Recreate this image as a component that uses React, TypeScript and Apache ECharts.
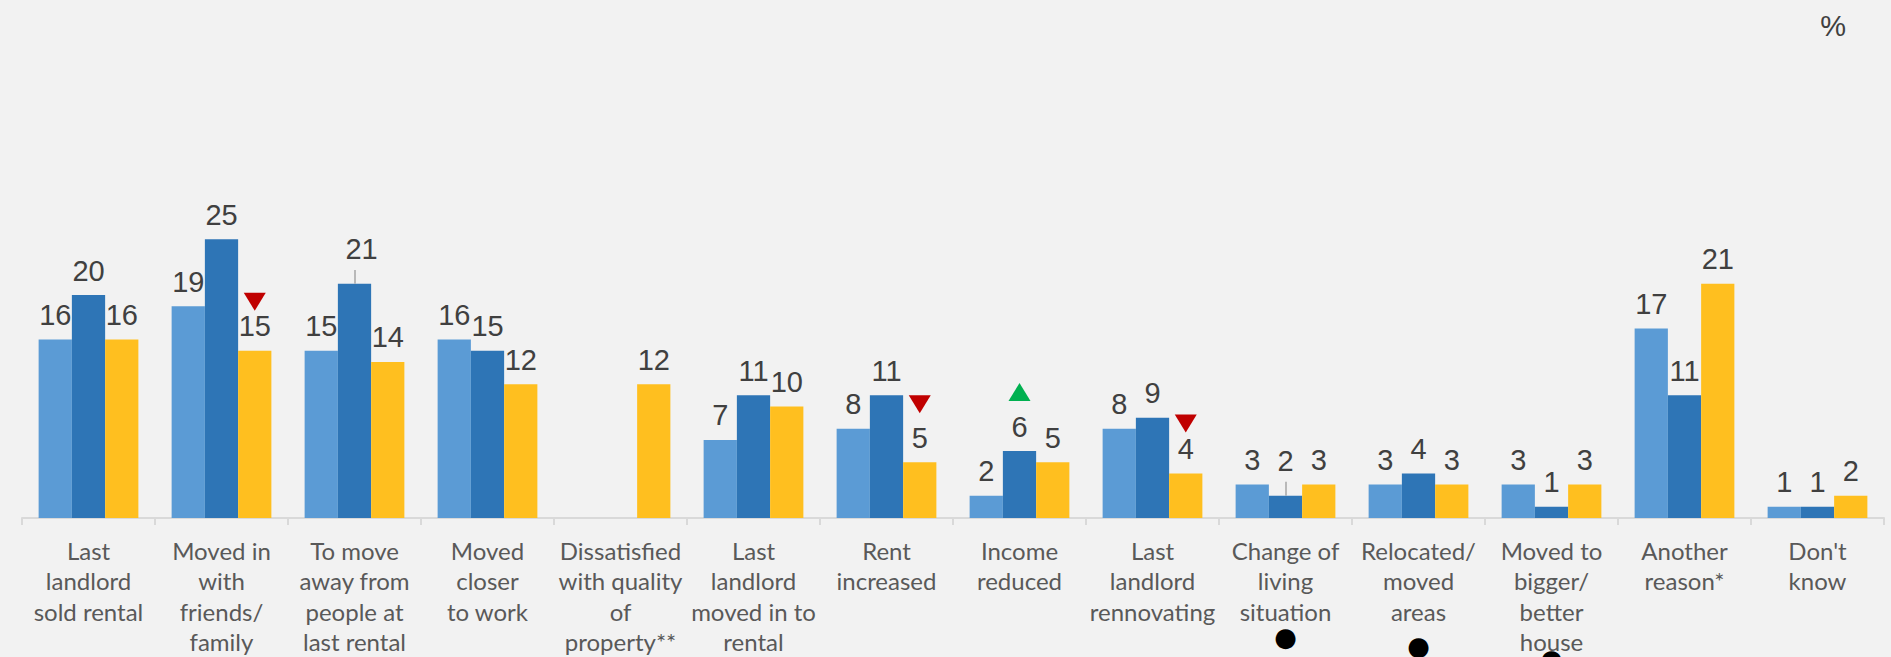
import React, { useEffect, useRef } from "react";
import * as echarts from "echarts";

const categories = [
  "Last\nlandlord\nsold rental",
  "Moved in\nwith\nfriends/\nfamily",
  "To move\naway from\npeople at\nlast rental",
  "Moved\ncloser\nto work",
  "Dissatisfied\nwith quality\nof\nproperty**",
  "Last\nlandlord\nmoved in to\nrental",
  "Rent\nincreased",
  "Income\nreduced",
  "Last\nlandlord\nrennovating",
  "Change of\nliving\nsituation",
  "Relocated/\nmoved\nareas",
  "Moved to\nbigger/\nbetter\nhouse",
  "Another\nreason*",
  "Don't\nknow",
];
const seriesA: (number | null)[] = [16, 19, 15, 16, null, 7, 8, 2, 8, 3, 3, 3, 17, 1];
const seriesB: (number | null)[] = [20, 25, 21, 15, null, 11, 11, 6, 9, 2, 4, 1, 11, 1];
const seriesC: (number | null)[] = [16, 15, 14, 12, 12, 10, 5, 5, 4, 3, 3, 3, 21, 2];
const downMarksC = [1, 6, 8];
const upMarksB = [7];
const dotCategories = [9, 10, 11];
const leaderB = [2, 9];
const unitLabel = "%";

// styling-only lookup tables
const triOffsetC: Record<number, number> = { 1: -49, 6: -58, 8: -50 };
const triOffsetB: Record<number, number> = { 7: -59 };
const dotStyleKey: Record<number, string> = { 9: "d0", 10: "d1", 11: "d2" };
const leaderLabelShift: Record<number, number> = { 2: 7, 9: 0 };
const LEADER_LEN = 1.25; // in value units

const COLORS = ["#5B9BD5", "#2E75B6", "#FFBF1F"];

export default function App() {
  const ref = useRef<HTMLDivElement>(null);
  useEffect(() => {
    if (!ref.current) return;
    const chart = echarts.init(ref.current, undefined, { renderer: "svg" });

    const labelBase = {
      show: true,
      position: "top",
      distance: 10,
      color: "#404040",
      fontFamily: "Liberation Sans, Arial, sans-serif",
      fontSize: 29,
      formatter: (p: any) => (p.value == null ? "" : String(p.value)),
    };

    const mkData = (arr: (number | null)[], leaders: number[]) =>
      arr.map((v, i) =>
        leaders.includes(i)
          ? {
              value: v,
              label: { distance: 20, offset: [leaderLabelShift[i] || 0, 0] },
            }
          : v == null
          ? "-"
          : v
      );

    const option: any = {
      animation: false,
      backgroundColor: "#F2F2F2",
      title: {
        text: unitLabel,
        right: 40,
        top: 6,
        textStyle: {
          color: "#404040",
          fontFamily: "Liberation Sans, Arial, sans-serif",
          fontSize: 29,
          fontWeight: "normal",
        },
      },
      grid: {
        left: 22,
        right: 7,
        top: 72,
        bottom: 139,
        containLabel: false,
        outerBoundsMode: "none",
      },
      xAxis: {
        type: "category",
        data: categories,
        axisLine: { lineStyle: { color: "#D9D9D9", width: 2 } },
        axisTick: { show: true, length: 7, lineStyle: { color: "#D9D9D9", width: 2 } },
        axisLabel: {
          interval: 0,
          margin: 17,
          color: "#595959",
          fontFamily: "Lato, Calibri, sans-serif",
          fontSize: 24,
          lineHeight: 30.5,
          formatter: (v: string, idx: number) =>
            dotCategories.includes(idx) ? `${v}\n{${dotStyleKey[idx]}|●}` : v,
          rich: {
            d0: { fontFamily: "DejaVu Sans", fontSize: 26, color: "#000", lineHeight: 21 },
            d1: { fontFamily: "DejaVu Sans", fontSize: 26, color: "#000", lineHeight: 39 },
            d2: { fontFamily: "DejaVu Sans", fontSize: 26, color: "#000", lineHeight: 3 },
          },
        },
      },
      yAxis: { type: "value", min: 0, max: 40, show: false, splitLine: { show: false } },
      series: [
        {
          name: "A",
          type: "bar",
          data: mkData(seriesA, []),
          barGap: "0%",
          barCategoryGap: "25%",
          itemStyle: { color: COLORS[0] },
          label: labelBase,
        },
        {
          name: "B",
          type: "bar",
          data: mkData(seriesB, leaderB),
          barGap: "0%",
          barCategoryGap: "25%",
          itemStyle: { color: COLORS[1] },
          label: labelBase,
          markPoint: {
            symbol: "triangle",
            symbolSize: [22, 18],
            label: { show: false },
            itemStyle: { color: "#00B050" },
            data: upMarksB.map((i) => ({
              coord: [i, seriesB[i]],
              symbolOffset: [0, triOffsetB[i]],
            })),
          },
          markLine: {
            silent: true,
            symbol: ["none", "none"],
            label: { show: false },
            lineStyle: { color: "#A6A6A6", width: 1.5, type: "solid" },
            data: leaderB.map((i) => [
              { coord: [i, seriesB[i]] },
              { coord: [i, (seriesB[i] as number) + LEADER_LEN] },
            ]),
          },
        },
        {
          name: "C",
          type: "bar",
          data: mkData(seriesC, []),
          barGap: "0%",
          barCategoryGap: "25%",
          itemStyle: { color: COLORS[2] },
          label: labelBase,
          markPoint: {
            symbol: "triangle",
            symbolSize: [22, 18],
            symbolRotate: 180,
            label: { show: false },
            itemStyle: { color: "#C00000" },
            data: downMarksC.map((i) => ({
              coord: [i, seriesC[i]],
              symbolRotate: 180,
              symbolOffset: [0, triOffsetC[i]],
            })),
          },
        },
      ],
    };
    chart.setOption(option);
    return () => chart.dispose();
  }, []);
  return (
    <div
      ref={ref}
      style={{ position: "absolute", left: 0, top: 0, width: 1891, height: 657 }}
    />
  );
}
